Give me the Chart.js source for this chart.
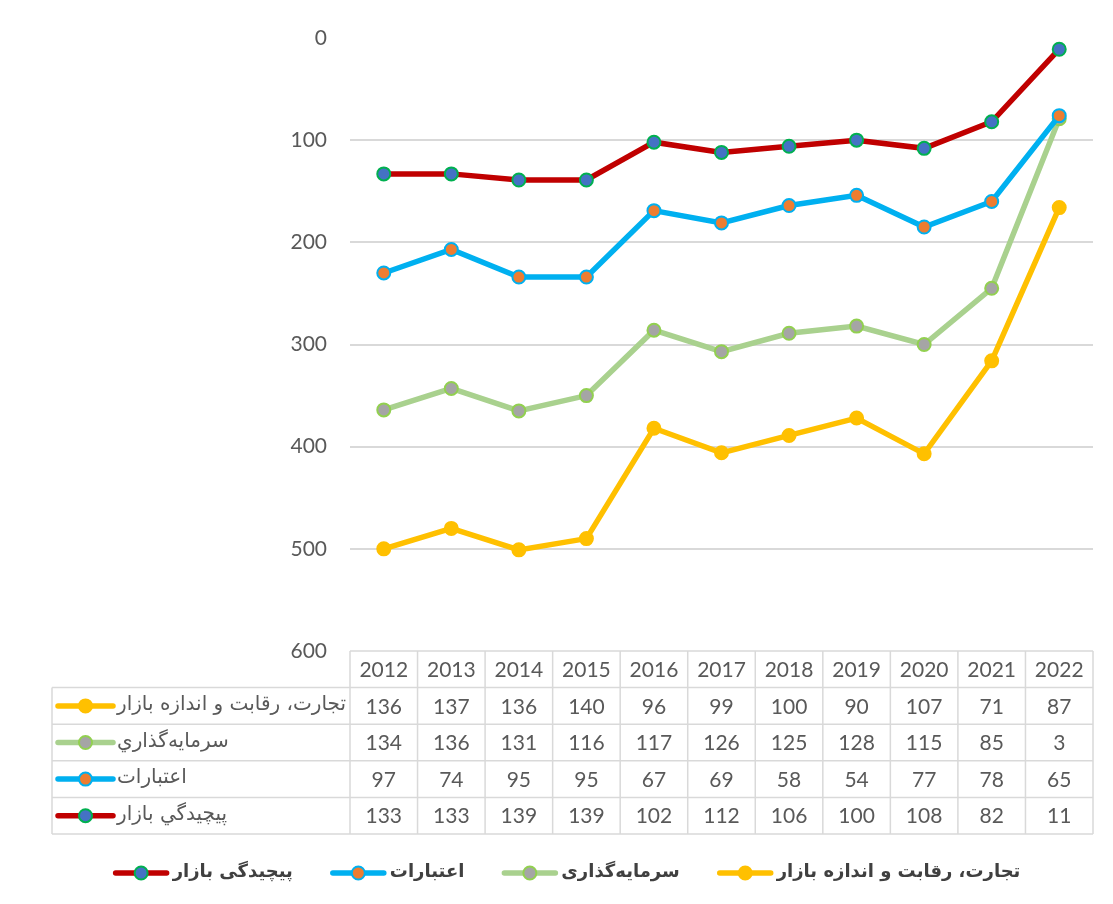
<!DOCTYPE html>
<html>
<head>
<meta charset="utf-8">
<script src="https://cdn.jsdelivr.net/npm/chart.js@4.4.1/dist/chart.umd.min.js"></script>
<style>
  html, body { margin: 0; padding: 0; background: #fff; }
  canvas { display: block; }
</style>
</head>
<body>
<canvas id="chart" width="1113" height="904"></canvas>
<script>
// سال‌ها و مقادیر (از جدول زیر نمودار)
const years = ["2012", "2013", "2014", "2015", "2016", "2017", "2018", "2019", "2020", "2021", "2022"];
const tejarat = [136, 137, 136, 140, 96, 99, 100, 90, 107, 71, 87];
const sarmaye = [134, 136, 131, 116, 117, 126, 125, 128, 115, 85, 3];
const etebarat = [97, 74, 95, 95, 67, 69, 58, 54, 77, 78, 65];
const pichidegi = [133, 133, 139, 139, 102, 112, 106, 100, 108, 82, 11];
const yTicks = [0, 100, 200, 300, 400, 500, 600];

// table labels use arabic yeh, legend uses persian yeh (as in the original)
const tableLabels = ["تجارت، رقابت و اندازه بازار", "سرمايه‌گذاري", "اعتبارات", "پيچيدگي بازار"];
const legendLabels = ["پیچیدگی بازار", "اعتبارات", "سرمایه‌گذاری", "تجارت، رقابت و اندازه بازار"];

const NUM_FONT = "Lato, 'DejaVu Sans', sans-serif";
const FA_FONT = "'DejaVu Sans', sans-serif";

// stack order: pichidegi at the bottom of the stack (top of reversed axis)
const datasets = [
  { data: pichidegi, line: "#C00000", fill: "#4472C4", edge: "#00B050" },
  { data: etebarat, line: "#00B0F0", fill: "#ED7D31", edge: "#00B0F0" },
  { data: sarmaye, line: "#A9D18E", fill: "#A5A5A5", edge: "#92D050" },
  { data: tejarat, line: "#FFC000", fill: "#FFC000", edge: "#FFC000" },
].map((d, i) => ({
  label: legendLabels[i],
  data: d.data,
  borderColor: d.line,
  backgroundColor: d.fill,
  borderWidth: 5.5,
  pointRadius: 6.5,
  pointBorderWidth: 2,
  pointBackgroundColor: d.fill,
  pointBorderColor: d.edge,
  tension: 0,
}));

// table rows top to bottom
const tableRows = [
  { label: tableLabels[0], values: tejarat, ds: 3 },
  { label: tableLabels[1], values: sarmaye, ds: 2 },
  { label: tableLabels[2], values: etebarat, ds: 1 },
  { label: tableLabels[3], values: pichidegi, ds: 0 },
];

function drawKey(ctx, x0, x1, y, ds) {
  ctx.save();
  ctx.strokeStyle = ds.borderColor;
  ctx.lineWidth = 5.5;
  ctx.lineCap = "round";
  ctx.beginPath();
  ctx.moveTo(x0, y);
  ctx.lineTo(x1, y);
  ctx.stroke();
  ctx.beginPath();
  ctx.arc((x0 + x1) / 2, y, 6.5, 0, Math.PI * 2);
  ctx.fillStyle = ds.pointBackgroundColor;
  ctx.fill();
  ctx.lineWidth = 2;
  ctx.strokeStyle = ds.pointBorderColor;
  ctx.stroke();
  ctx.restore();
}

const dataTablePlugin = {
  id: "dataTable",
  afterDraw(chart) {
    const ctx = chart.ctx;
    const x = chart.scales.x;
    const area = chart.chartArea;
    const colW = x.getPixelForValue(1) - x.getPixelForValue(0);
    const left = area.left;
    const right = area.right;
    const labelLeft = 52;
    const top = area.bottom;
    const rowH = 36.6;
    const bottom = top + rowH * 5;

    ctx.save();
    ctx.strokeStyle = "#d9d9d9";
    ctx.lineWidth = 1.5;
    ctx.beginPath();
    ctx.moveTo(left, top);
    ctx.lineTo(right, top);
    for (let r = 1; r <= 5; r++) {
      ctx.moveTo(labelLeft, top + rowH * r);
      ctx.lineTo(right, top + rowH * r);
    }
    ctx.moveTo(labelLeft, top + rowH);
    ctx.lineTo(labelLeft, bottom);
    for (let c = 0; c <= years.length; c++) {
      const cx = left + colW * c;
      ctx.moveTo(cx, top);
      ctx.lineTo(cx, bottom);
    }
    ctx.stroke();

    ctx.fillStyle = "#595959";
    ctx.textAlign = "center";
    ctx.textBaseline = "middle";
    ctx.font = "21px " + NUM_FONT;
    years.forEach((yr, i) => {
      ctx.fillText(yr, x.getPixelForValue(i), top + rowH / 2 + 1);
    });
    tableRows.forEach((row, r) => {
      const cy = top + rowH * (r + 1) + rowH / 2 + 1;
      row.values.forEach((v, i) => {
        ctx.fillText(String(v), x.getPixelForValue(i), cy);
      });
    });

    // row labels sit right after the key line
    ctx.textAlign = "left";
    ctx.font = "20px " + FA_FONT;
    tableRows.forEach((row, r) => {
      const cy = top + rowH * (r + 1) + rowH / 2;
      drawKey(ctx, 58, 113, cy, chart.data.datasets[row.ds]);
      ctx.fillStyle = "#595959";
      ctx.fillText(row.label, 117, cy - 1);
    });

    // legend at the bottom
    ctx.font = "bold 18px " + FA_FONT;
    const lineW = 51, gapIn = 6, gapOut = 40;
    const widths = legendLabels.map((t) => ctx.measureText(t).width);
    const total = widths.reduce((a, b) => a + b, 0) + legendLabels.length * (lineW + gapIn) + gapOut * (legendLabels.length - 1);
    let lx = 568 - total / 2;
    const ly = 873;
    ctx.textAlign = "left";
    legendLabels.forEach((t, i) => {
      drawKey(ctx, lx, lx + lineW, ly, chart.data.datasets[i]);
      ctx.fillStyle = "#404040";
      ctx.fillText(t, lx + lineW + gapIn, ly - 1);
      lx += lineW + gapIn + widths[i] + gapOut;
    });
    ctx.restore();
  },
};

new Chart(document.getElementById("chart"), {
  type: "line",
  data: { labels: years, datasets },
  options: {
    responsive: false,
    animation: false,
    devicePixelRatio: 1,
    layout: { padding: { left: 0, right: 20, top: 38, bottom: 253 } },
    plugins: {
      legend: { display: false },
      tooltip: { enabled: false },
    },
    scales: {
      x: { display: false, offset: true },
      y: {
        reverse: true,
        stacked: true,
        min: 0,
        max: 600,
        afterFit: (s) => { s.width = 350; },
        afterBuildTicks: (s) => { s.ticks = yTicks.map((v) => ({ value: v })); },
        border: { display: false },
        grid: {
          drawTicks: false,
          lineWidth: 2,
          color: (c) => (c.tick && (c.tick.value === 0 || c.tick.value === 600) ? "rgba(0,0,0,0)" : "#d9d9d9"),
        },
        ticks: {
          padding: 23,
          color: "#595959",
          font: { size: 21, family: NUM_FONT },
        },
      },
    },
  },
  plugins: [dataTablePlugin],
});
</script>
</body>
</html>
